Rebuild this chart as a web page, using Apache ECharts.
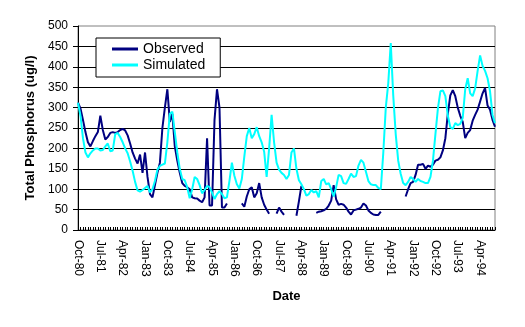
<!DOCTYPE html>
<html><head><meta charset="utf-8">
<script src="https://cdn.jsdelivr.net/npm/echarts@6/dist/echarts.min.js"></script>
<style>html,body{margin:0;padding:0;background:#fff}#c{width:525px;height:327px}</style>
</head><body><div id="c"></div>
<script>
// Monthly categories Oct-80 .. Oct-94
const monthNames = ['Jan','Feb','Mar','Apr','May','Jun','Jul','Aug','Sep','Oct','Nov','Dec'];
const startYear = 1980, startMonthIndex = 9, monthCount = 169;
const categories = [];
for (let i = 0; i < monthCount; i++) {
  const m = (startMonthIndex + i) % 12;
  const y = startYear + Math.floor((startMonthIndex + i) / 12);
  categories.push(monthNames[m] + '-' + String(y % 100).padStart(2, '0'));
}

const observed = [
312,298,270,240,215,205,218,230,240,280,
245,222,228,238,240,238,240,245,248,244,
232,212,190,175,163,185,140,190,130,88,
80,110,140,165,250,300,345,265,285,205,
170,140,115,108,105,100,80,78,77,72,
68,80,225,60,60,270,345,300,55,55,
65,null,null,null,null,null,65,57,82,100,
105,80,90,115,80,62,50,40,null,null,
40,55,45,37,null,null,null,null,35,70,
108,null,null,null,null,null,42,45,46,48,
52,60,72,110,75,62,64,62,55,45,
38,48,50,52,55,65,60,48,42,38,
37,37,45,null,null,null,null,null,null,null,
null,null,82,100,115,118,135,160,160,162,
150,158,155,160,170,172,178,195,225,285,
330,343,328,300,280,265,225,238,245,268,
282,295,315,335,348,305,295,270,253
];

const simulated = [
312,280,225,190,178,188,195,200,200,195,
196,205,212,193,195,235,238,228,215,200,
188,168,145,118,97,94,98,103,108,92,
100,120,148,157,160,163,215,285,290,240,
190,150,125,122,105,78,100,130,125,110,
90,98,108,105,92,76,88,95,88,78,
80,120,165,133,112,102,125,180,230,250,
225,235,252,230,215,192,130,200,282,215,
165,148,140,135,125,135,190,200,150,122,
112,100,84,88,98,92,95,80,120,125,
112,115,100,82,105,135,132,115,113,125,
138,130,132,158,172,165,143,120,112,110,
110,103,100,190,300,360,458,330,235,170,
138,115,110,118,130,125,118,125,120,118,
115,115,130,170,235,298,340,342,328,280,
252,248,262,257,260,275,345,372,335,328,
347,390,428,402,390,372,340,282,262
];

const seriesNames = ['Observed', 'Simulated'];
const yMin = 0, yMax = 500, yStep = 50;
const labelEvery = 9;

const font = '"Liberation Sans", Arial, sans-serif';
const chart = echarts.init(document.getElementById('c'), null, {renderer: 'canvas'});
chart.setOption({
  animation: false,
  backgroundColor: '#ffffff',
  grid: {left: 78, right: 30, top: 26, bottom: 97, show: true, borderColor: '#808080', borderWidth: 1, backgroundColor: '#ffffff'},
  legend: {
    data: seriesNames,
    orient: 'vertical', left: 96, top: 38,
    icon: 'rect',
    itemWidth: 26, itemHeight: 3, itemGap: 2,
    padding: [4, 15, 5, 16],
    borderColor: '#000', borderWidth: 1, backgroundColor: '#fff', borderRadius: 0,
    textStyle: {fontFamily: font, fontSize: 14, color: '#000', lineHeight: 14}
  },
  xAxis: {
    type: 'category', data: categories, boundaryGap: false,
    name: 'Date', nameLocation: 'middle', nameGap: 60,
    nameTextStyle: {fontFamily: font, fontSize: 13, fontWeight: 'bold', color: '#000'},
    axisLine: {lineStyle: {color: '#000', width: 1}},
    axisTick: {show: true, interval: 0, length: 3, inside: true, lineStyle: {color: '#000'}},
    axisLabel: {interval: (i) => i % labelEvery === 0, rotate: -90, margin: 10, fontFamily: font, fontSize: 12, color: '#000'},
    splitLine: {show: false}
  },
  yAxis: {
    type: 'value', min: yMin, max: yMax, interval: yStep,
    name: 'Total Phosphorus (ug/l)', nameLocation: 'middle', nameGap: 41, nameRotate: 90,
    nameTextStyle: {fontFamily: font, fontSize: 13, fontWeight: 'bold', color: '#000'},
    axisLine: {show: true, lineStyle: {color: '#000', width: 1}},
    axisTick: {show: true, length: 5, lineStyle: {color: '#000'}},
    axisLabel: {margin: 10, fontFamily: font, fontSize: 12, color: '#000'},
    splitLine: {show: true, showMaxLine: false, lineStyle: {color: '#000', width: 1}}
  },
  series: [
    {name: seriesNames[0], type: 'line', data: observed, symbol: 'none', connectNulls: false,
     lineStyle: {color: '#000080', width: 2}, itemStyle: {color: '#000080'}},
    {name: seriesNames[1], type: 'line', data: simulated, symbol: 'none',
     lineStyle: {color: '#00FFFF', width: 2}, itemStyle: {color: '#00FFFF'}}
  ]
});
</script></body></html>
